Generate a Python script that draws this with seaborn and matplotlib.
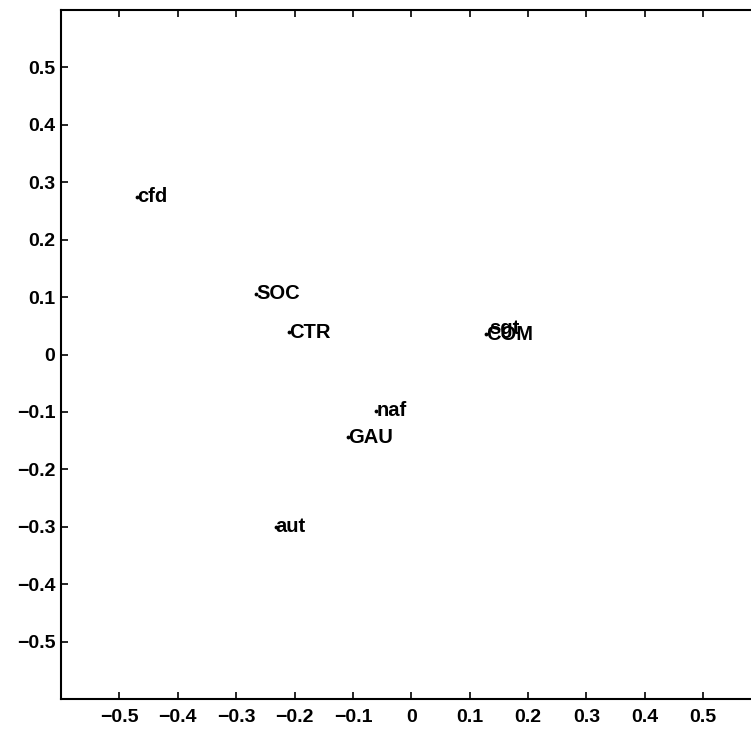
import matplotlib
matplotlib.use("Agg")
import matplotlib.pyplot as plt
import numpy as np
import pandas as pd
import seaborn as sns

# category labels and their coordinates
labels = ["cfd", "SOC", "CTR", "sgt", "COM", "naf", "GAU", "aut"]
x_vals = [-0.469, -0.266, -0.210, 0.134, 0.128, -0.060, -0.109, -0.232]
y_vals = [0.275, 0.106, 0.039, 0.045, 0.035, -0.098, -0.144, -0.300]

ticks = [-0.5, -0.4, -0.3, -0.2, -0.1, 0, 0.1, 0.2, 0.3, 0.4, 0.5]
tick_labels = ["\u22120.5", "\u22120.4", "\u22120.3", "\u22120.2", "\u22120.1", "0",
               "0.1", "0.2", "0.3", "0.4", "0.5"]

df = pd.DataFrame({"x": x_vals, "y": y_vals, "label": labels})

sns.set_style("ticks")
plt.rcParams['font.family'] = ['Liberation Sans', 'DejaVu Sans']
plt.rcParams['xtick.direction'] = 'in'
plt.rcParams['ytick.direction'] = 'in'

fig = plt.figure(figsize=(7.51, 7.34), dpi=100)
ax = fig.add_axes([61 / 751, 35 / 734, 700.6 / 751, 689 / 734])

sns.scatterplot(data=df, x="x", y="y", ax=ax, color="black", marker=".",
                s=30, linewidth=0, legend=False)
for _, r in df.iterrows():
    ax.text(r["x"], r["y"], r["label"], fontsize=14.5, fontweight="bold",
            ha="left", va="center", color="black")

ax.set_xlim(-0.6, 0.6)
ax.set_ylim(-0.6, 0.6)
ax.set_xticks(ticks)
ax.set_yticks(ticks)
ax.set_xticklabels(tick_labels, fontsize=14, fontweight="bold")
ax.set_yticklabels(tick_labels, fontsize=14, fontweight="bold")
ax.set_xlabel("")
ax.set_ylabel("")
ax.tick_params(axis="both", which="both", direction="in", length=5, width=1.2,
               top=True, right=True, color="black", labelcolor="black")
ax.tick_params(axis="x", pad=7)
ax.tick_params(axis="y", pad=4)
for sp in ax.spines.values():
    sp.set_visible(True)
    sp.set_linewidth(1.5)
    sp.set_color("black")

fig.savefig("out.png", dpi=100)
